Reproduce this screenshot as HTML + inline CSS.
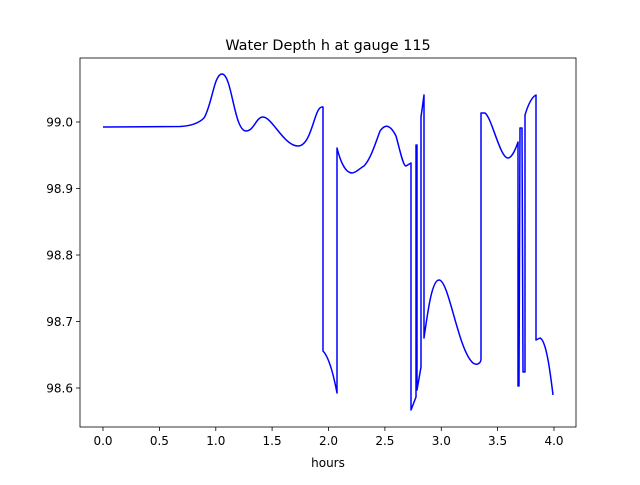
<!DOCTYPE html>
<html><head><style>body{margin:0;background:#fff}</style></head><body>
<svg width="640" height="480" xmlns="http://www.w3.org/2000/svg" font-family="DejaVu Sans, Liberation Sans, sans-serif">
<rect width="640" height="480" fill="#fff"/>
<text x="328" y="50" font-size="14.4" text-anchor="middle">Water Depth h at gauge 115</text>
<path d="M103,127 L180,126.5 C190,126 198,124 204,118 C212,105 214,74 222,74 C232,74 234,131 246,131 C254,131 256,117 263,117 C272,117 284,146 298,146 C312,146 314,107 322,107 L323,107 L323,351 C328,356 333,372 337,393 L337,148 C340,160 345,173 352,173 C356,173 360,168 364,166 C370,160 375,145 380,131 C385,124 390,124 396,136 C400,150 403,166 406,166 L411,163 L411,410 L416,397 L416,145 L417,145 L417,390 L421,367 L421,117 L424,95 L424,338 C428,310 432,280 439,280 C449,280 458,350 473,363 C477,366 481,363 481,359 L481,113 L485,113 C492,118 500,158 508,158 C512,158 516,148 518,142 L518,386 L519,386 L520,128 L522,128 L523,372 L525,372 L525,115 C528,105 532,97 536,95 L536,340 L540,338 C546,340 550,370 553,395" fill="none" stroke="#0000ff" stroke-width="1.5" stroke-linejoin="round"/>
<rect x="80" y="58" width="496" height="369" fill="none" stroke="#000" stroke-width="0.8"/>
<g font-size="12" text-anchor="middle">
<g stroke="#000" stroke-width="0.8">
<line x1="103" y1="427" x2="103" y2="431"/><line x1="159.4" y1="427" x2="159.4" y2="431"/><line x1="215.8" y1="427" x2="215.8" y2="431"/><line x1="272.1" y1="427" x2="272.1" y2="431"/><line x1="328.5" y1="427" x2="328.5" y2="431"/><line x1="384.9" y1="427" x2="384.9" y2="431"/><line x1="441.3" y1="427" x2="441.3" y2="431"/><line x1="497.6" y1="427" x2="497.6" y2="431"/><line x1="554" y1="427" x2="554" y2="431"/>
<line x1="76" y1="122" x2="80" y2="122"/><line x1="76" y1="188.5" x2="80" y2="188.5"/><line x1="76" y1="255" x2="80" y2="255"/><line x1="76" y1="321.5" x2="80" y2="321.5"/><line x1="76" y1="388" x2="80" y2="388"/>
</g>
<text x="103" y="445">0.0</text><text x="159.4" y="445">0.5</text><text x="215.8" y="445">1.0</text><text x="272.1" y="445">1.5</text><text x="328.5" y="445">2.0</text><text x="384.9" y="445">2.5</text><text x="441.3" y="445">3.0</text><text x="497.6" y="445">3.5</text><text x="554" y="445">4.0</text>
<text x="328" y="467">hours</text>
</g>
<g font-size="12" text-anchor="end">
<text x="73" y="126.5">99.0</text><text x="73" y="193">98.9</text><text x="73" y="259.5">98.8</text><text x="73" y="326">98.7</text><text x="73" y="392.5">98.6</text>
</g>
</svg>
</body></html>
